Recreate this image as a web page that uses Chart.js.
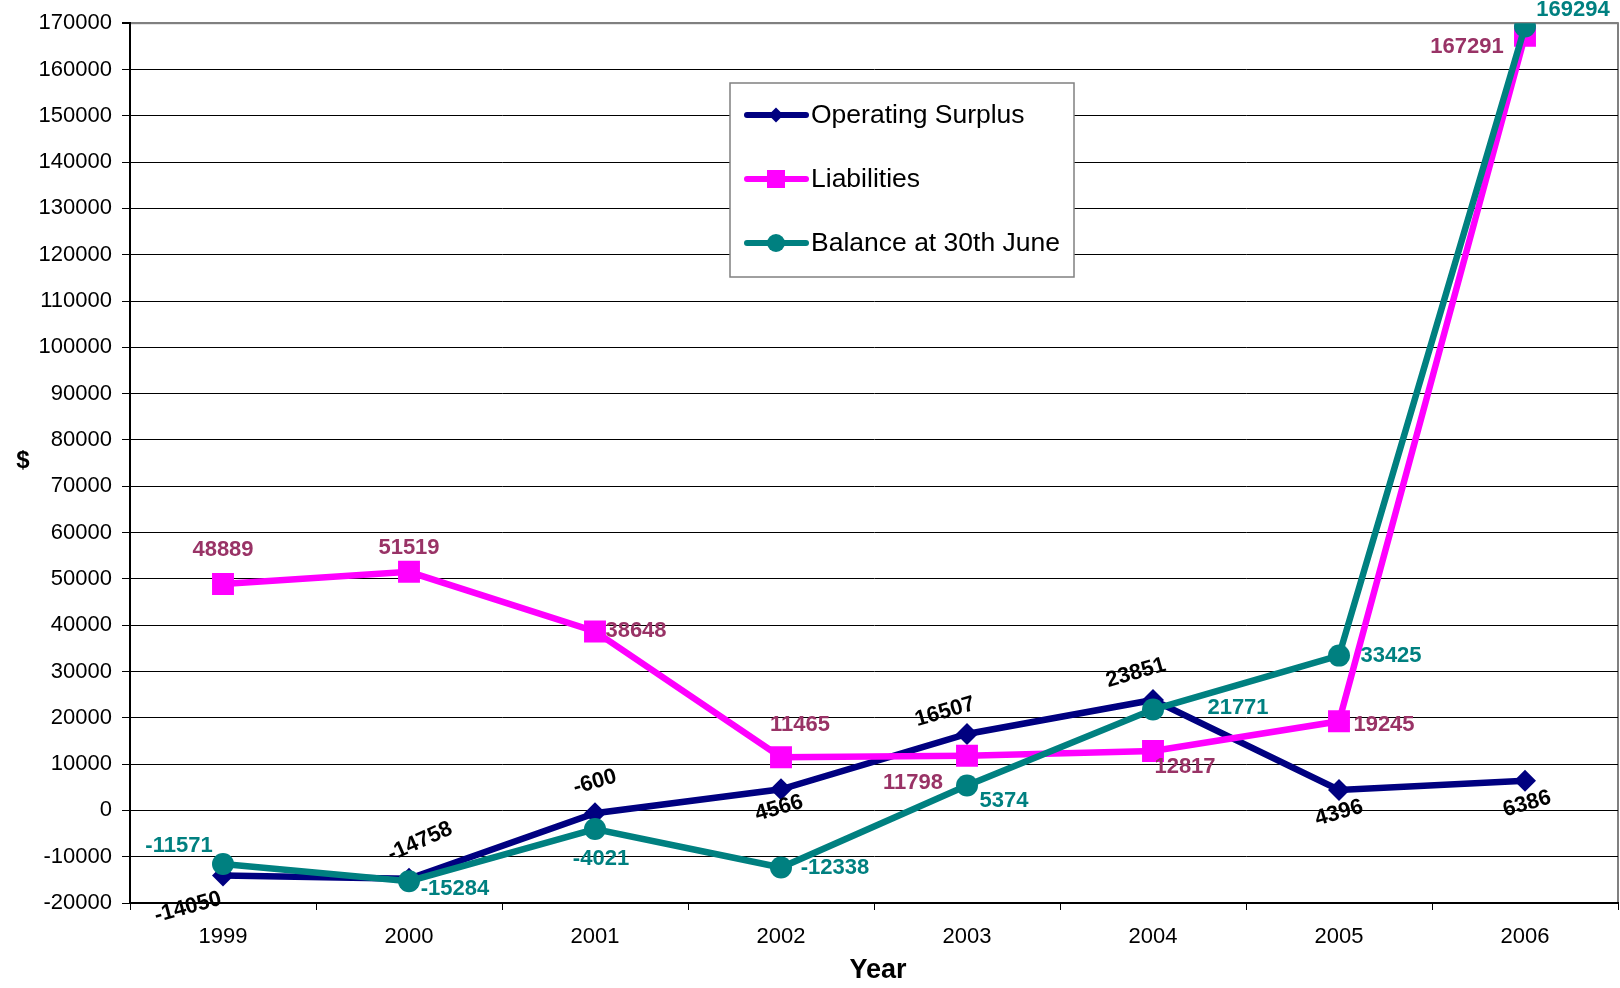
<!DOCTYPE html>
<html>
<head>
<meta charset="utf-8">
<script src="https://cdn.jsdelivr.net/npm/chart.js@4/dist/chart.umd.min.js"></script>
<style>
  body { margin: 0; background: #fff; }
  canvas { display: block; }
</style>
</head>
<body>
<canvas id="chart" width="1620" height="988"></canvas>
<script>
const years = ["1999", "2000", "2001", "2002", "2003", "2004", "2005", "2006"];
const operatingSurplus = [-14050, -14758, -600, 4566, 16507, 23851, 4396, 6386];
const liabilities = [48889, 51519, 38648, 11465, 11798, 12817, 19245, 167291];
const balance = [-11571, -15284, -4021, -12338, 5374, 21771, 33425, 169294];
const yTicks = { min: -20000, max: 170000, step: 10000 };

// where each value label sits relative to its point (px)
const labelOffsets = [
    [[-35, 32], [11, -37], [0, -31], [-2, 19], [-22, -22], [-17, -27], [0, 23], [2, 23]],
    [[0, -34], [0, -24], [41, 0], [19, -32], [-54, 27], [32, 16], [45, 4], [-58, 11]],
    [[-44, -18], [46, 8], [6, 30], [54, 0], [37, 15], [85, -2], [52, 0], [48, -17]]
];
const labelAngles = [-15, -24, -16, -16, -16, -16, -16, -16];

const FONT = "'Liberation Sans', Arial, sans-serif";
const NAVY = "#000080", MAGENTA = "#FF00FF", TEAL = "#008080", PLUM = "#993366";

const labelColors = ["#000000", PLUM, TEAL];

function drawMarker(c, style, x, y, r, color) {
    c.save();
    c.fillStyle = color;
    c.beginPath();
    if (style === "rectRot") {
        c.moveTo(x, y - r); c.lineTo(x + r, y); c.lineTo(x, y + r); c.lineTo(x - r, y);
        c.closePath();
    } else if (style === "rect") {
        c.rect(x - r, y - r, r * 2, r * 2);
    } else {
        c.arc(x, y, r, 0, Math.PI * 2);
    }
    c.fill();
    c.restore();
}

const extras = {
    id: "extras",
    beforeDraw(chart) {
        const c = chart.ctx, a = chart.chartArea;
        c.save();
        c.strokeStyle = "#808080";
        c.lineWidth = 2;
        c.strokeRect(a.left, a.top, a.right - a.left, a.bottom - a.top);
        c.restore();
    },
    afterDraw(chart) {
        const c = chart.ctx;
        // value labels
        chart.data.datasets.forEach((ds, di) => {
            const meta = chart.getDatasetMeta(di);
            meta.data.forEach((pt, i) => {
                const off = labelOffsets[di][i];
                c.save();
                c.translate(pt.x + off[0], pt.y + off[1]);
                if (di === 0) c.rotate(labelAngles[i] * Math.PI / 180);
                c.font = "bold 22px " + FONT;
                c.fillStyle = labelColors[di];
                c.textAlign = "center";
                c.textBaseline = "middle";
                c.fillText(String(ds.data[i]), 0, 0);
                c.restore();
            });
        });

        // legend box
        c.save();
        c.fillStyle = "#fff";
        c.fillRect(730, 83, 344, 194);
        c.strokeStyle = "#808080";
        c.lineWidth = 1.5;
        c.strokeRect(730, 83, 344, 194);
        const items = [
            ["Operating Surplus", NAVY, "rectRot", 7.5],
            ["Liabilities", MAGENTA, "rect", 9],
            ["Balance at 30th June", TEAL, "circle", 9]
        ];
        items.forEach((it, k) => {
            const y = 115 + k * 64;
            c.strokeStyle = it[1];
            c.lineWidth = 6;
            c.lineCap = "round";
            c.beginPath();
            c.moveTo(747, y); c.lineTo(806, y);
            c.stroke();
            drawMarker(c, it[2], 776, y, it[3], it[1]);
            c.font = "26.5px " + FONT;
            c.fillStyle = "#000";
            c.textAlign = "left";
            c.textBaseline = "middle";
            c.fillText(it[0], 811, y + 1);
        });

        // axis titles
        c.font = "bold 24px " + FONT;
        c.textAlign = "center";
        c.textBaseline = "middle";
        c.fillText("$", 23, 461);
        c.font = "bold 27px " + FONT;
        c.fillText("Year", 878, 971);
        c.restore();
    }
};

new Chart(document.getElementById("chart"), {
    type: "line",
    data: {
        labels: years,
        datasets: [
            {
                label: "Operating Surplus", data: operatingSurplus, order: 2,
                borderColor: NAVY, backgroundColor: NAVY, borderWidth: 6.5,
                pointStyle: "rectRot", pointRadius: 11, pointBorderWidth: 0
            },
            {
                label: "Liabilities", data: liabilities, order: 1,
                borderColor: MAGENTA, backgroundColor: MAGENTA, borderWidth: 6.5,
                pointStyle: "rect", pointRadius: 15.5, pointBorderWidth: 0
            },
            {
                label: "Balance at 30th June", data: balance, order: 0,
                borderColor: TEAL, backgroundColor: TEAL, borderWidth: 6.5,
                pointStyle: "circle", pointRadius: 11, pointBorderWidth: 0
            }
        ]
    },
    options: {
        responsive: false,
        animation: false,
        layout: { autoPadding: false, padding: { top: 21, right: 2, left: 0, bottom: 0 } },
        plugins: { legend: { display: false }, tooltip: { enabled: false } },
        scales: {
            x: {
                offset: true,
                afterFit(s) { s.height = 85; },
                grid: { drawOnChartArea: false, tickLength: 7, color: "#000", offset: true },
                border: { color: "#000", width: 2 },
                ticks: { color: "#000", font: { family: FONT, size: 22 }, padding: 14, maxRotation: 0 }
            },
            y: {
                min: yTicks.min,
                max: yTicks.max,
                afterFit(s) { s.width = 130; },
                grid: {
                    color: (ctx) => (ctx.tick && ctx.tick.value === yTicks.max ? "#808080" : "#000"),
                    lineWidth: (ctx) => (ctx.tick && ctx.tick.value === yTicks.max ? 2 : 1),
                    tickColor: "#000",
                    tickLength: 8
                },
                border: { color: "#000", width: 2 },
                ticks: {
                    stepSize: yTicks.step,
                    color: "#000",
                    padding: 10,
                    font: { family: FONT, size: 22 },
                    callback: (v) => String(v)
                }
            }
        }
    },
    plugins: [extras]
});
</script>
</body>
</html>
